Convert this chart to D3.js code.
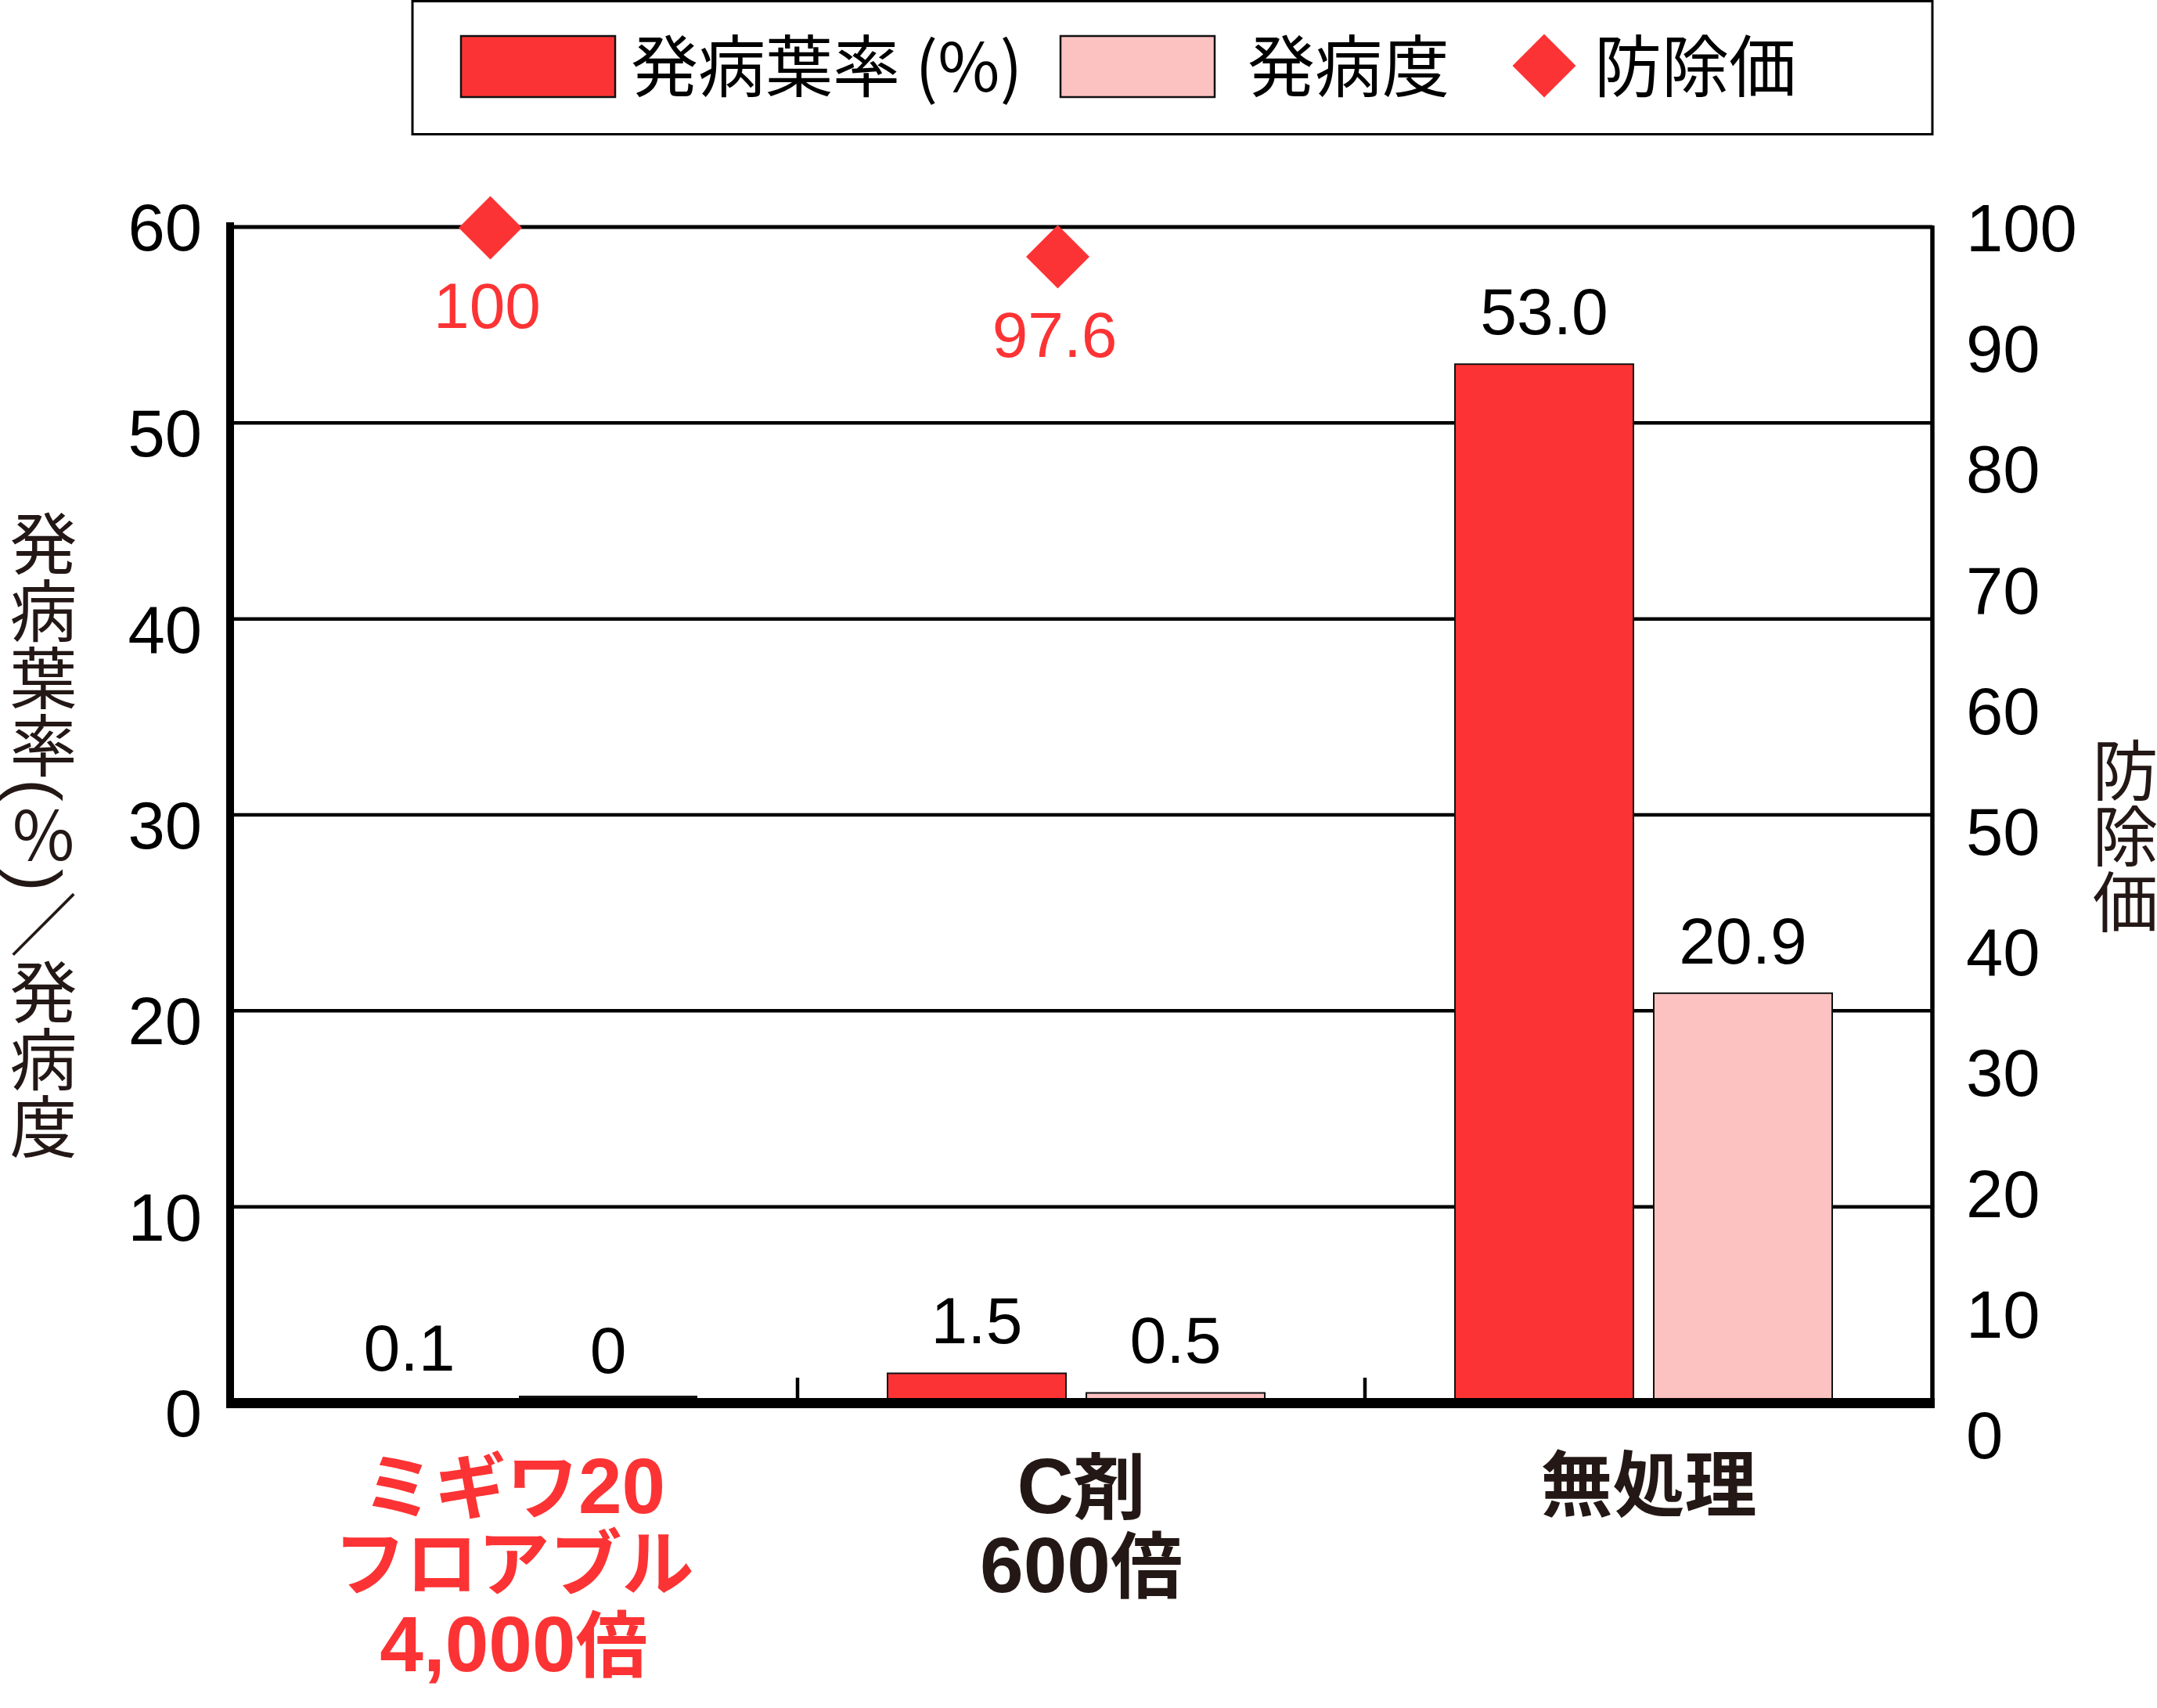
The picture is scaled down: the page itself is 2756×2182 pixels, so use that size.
<!DOCTYPE html>
<html>
<head>
<meta charset="utf-8">
<script src="https://cdn.jsdelivr.net/npm/d3@7"></script>
<style>
  html, body { margin: 0; padding: 0; background: #fff; }
  #wrap { position: relative; width: 2756px; height: 2182px; overflow: hidden; }
  svg { display: block; position: absolute; left: 0; top: 0; }
  .vtitle { position: absolute; writing-mode: vertical-rl; text-orientation: mixed; white-space: nowrap;
            font-family: 'Liberation Sans', 'Noto Sans CJK JP', sans-serif; color: #231815; }
  .cat { position: absolute; text-align: center; font-weight: 700; white-space: nowrap;
         font-family: 'Liberation Sans', 'Noto Sans CJK JP', sans-serif; }
  .cat .line { height: 101px; line-height: 101px; }
</style>
</head>
<body>
<div id="wrap"><svg id="chart" width="2756" height="2182"></svg></div>
<script>
// ---- data ----
const categories = ["ミギワ20フロアブル4,000倍", "C剤600倍", "無処理"];
const categoryLines = [["ミギワ20", "フロアブル", "4,000倍"], ["C剤", "600倍"], ["無処理"]];
const seriesNames = ["発病葉率 (%)", "発病度", "防除価"];
const incidence = [0.1, 1.5, 53.0];          // 発病葉率 (%)
const severity = [0, 0.5, 20.9];             // 発病度
const controlValue = [100, 97.6, null];      // 防除価
const incidenceLabels = ["0.1", "1.5", "53.0"];
const severityLabels = ["0", "0.5", "20.9"];
const controlLabels = ["100", "97.6", ""];
const leftTicks = [0, 10, 20, 30, 40, 50, 60];
const rightTicks = [0, 10, 20, 30, 40, 50, 60, 70, 80, 90, 100];
const leftTitle = "発病葉率(％)／発病度";
const rightTitle = "防除価";

// ---- style ----
const RED = "#fc3334";
const PINK = "#fcc1c1";
const DARK = "#231815";
const NUM_FONT = "'Liberation Sans', Arial, Helvetica, sans-serif";
const JP_FONT = "'Noto Sans CJK JP', 'Noto Sans', sans-serif";

const wrap = d3.select("#wrap");
const svg = d3.select("#chart");

const plotL = 294, plotR = 2469, plotT = 290, plotB = 1792;

const x0 = d3.scaleBand().domain(categories).range([plotL, plotR]).paddingInner(0).paddingOuter(0);
const seriesKeys = ["incidence", "severity"];
const x1 = d3.scaleBand().domain(seriesKeys).range([115, 597]).paddingInner(0.1024).paddingOuter(0);
const y = d3.scaleLinear().domain([0, 60]).range([plotB, plotT]);
const yR = d3.scaleLinear().domain([0, 100]).range([1833, 291]);

const rows = categories.map((c, i) => ({
  cat: c, lines: categoryLines[i],
  bars: [
    {key: "incidence", v: incidence[i], label: incidenceLabels[i], fill: RED},
    {key: "severity", v: severity[i], label: severityLabels[i], fill: PINK}
  ],
  ctrl: controlValue[i], ctrlLabel: controlLabels[i]
}));

// gridlines
svg.append("g").selectAll("line").data(leftTicks.filter(d => d > 0)).join("line")
  .attr("x1", plotL).attr("x2", plotR)
  .attr("y1", d => y(d)).attr("y2", d => y(d))
  .attr("stroke", "#000").attr("stroke-width", d => d === 60 ? 5 : 4.5);

// bars
const g = svg.append("g").selectAll("g").data(rows).join("g")
  .attr("transform", d => `translate(${x0(d.cat)},0)`);
g.selectAll("rect.bar").data(d => d.bars.filter(b => b.v > 0)).join("rect").attr("class", "bar")
  .attr("x", d => x1(d.key)).attr("width", x1.bandwidth())
  .attr("y", d => y(d.v)).attr("height", d => y(0) - y(d.v))
  .attr("fill", d => d.fill).attr("stroke", "#111").attr("stroke-width", 2);

// value labels
g.selectAll("text.val").data(d => d.bars).join("text").attr("class", "val")
  .attr("x", d => x1(d.key) + x1.bandwidth() / 2)
  .attr("y", d => y(d.v) - 38)
  .attr("text-anchor", "middle").attr("font-family", NUM_FONT).attr("font-size", 84)
  .attr("fill", "#000").text(d => d.label);

// axes lines
svg.append("line").attr("x1", plotL).attr("x2", plotL).attr("y1", 284).attr("y2", 1799)
  .attr("stroke", "#000").attr("stroke-width", 10);
svg.append("line").attr("x1", plotR).attr("x2", plotR).attr("y1", 288).attr("y2", 1799)
  .attr("stroke", "#000").attr("stroke-width", 5.5);
svg.append("line").attr("x1", plotL - 5).attr("x2", plotR + 3).attr("y1", 1792.5).attr("y2", 1792.5)
  .attr("stroke", "#000").attr("stroke-width", 13);

// zero-value markers (thin line sitting on the baseline)
g.selectAll("line.zero").data(d => d.bars.filter(b => b.v === 0)).join("line").attr("class", "zero")
  .attr("x1", d => x1(d.key)).attr("x2", d => x1(d.key) + x1.bandwidth())
  .attr("y1", 1784.5).attr("y2", 1784.5)
  .attr("stroke", "#111").attr("stroke-width", 3);

// category dividers
svg.append("g").selectAll("line").data(categories.slice(1)).join("line")
  .attr("x1", d => x0(d)).attr("x2", d => x0(d))
  .attr("y1", 1760).attr("y2", 1790)
  .attr("stroke", "#000").attr("stroke-width", 4.5);

// left tick labels
svg.append("g").selectAll("text").data(leftTicks).join("text")
  .attr("x", 258).attr("y", d => y(d) + (d === 60 ? 0 : 13) + 30)
  .attr("text-anchor", "end").attr("font-family", NUM_FONT).attr("font-size", 85)
  .attr("fill", "#000").text(d => d);

// right tick labels
svg.append("g").selectAll("text").data(rightTicks).join("text")
  .attr("x", 2512).attr("y", d => yR(d) + 30)
  .attr("text-anchor", "start").attr("font-family", NUM_FONT).attr("font-size", 85)
  .attr("fill", "#000").text(d => d);

// diamonds (防除価)
const diamond = d3.symbol().type(d3.symbolSquare).size(3281);
const ctrlRows = rows.filter(d => d.ctrl != null);
svg.append("g").selectAll("path").data(ctrlRows).join("path")
  .attr("d", diamond)
  .attr("transform", d => `translate(${x0(d.cat) + x0.bandwidth() / 2 - 30},${yR(d.ctrl)}) rotate(45)`)
  .attr("fill", RED);
svg.append("g").selectAll("text").data(ctrlRows).join("text")
  .attr("x", d => x0(d.cat) + x0.bandwidth() / 2 - 34)
  .attr("y", d => yR(d.ctrl) + 128)
  .attr("text-anchor", "middle").attr("font-family", NUM_FONT).attr("font-size", 82)
  .attr("fill", RED).text(d => d.ctrlLabel);

// category labels (HTML, Latin runs slightly larger)
const splitRuns = s => (s.match(/[0-9A-Za-z,.]+|[^0-9A-Za-z,.]+/g) || []).map(t => ({t, lat: /^[0-9A-Za-z,.]/.test(t)}));
const catDiv = wrap.selectAll("div.cat").data(rows).join("div").attr("class", "cat")
  .style("left", d => x0(d.cat) + "px")
  .style("width", x0.bandwidth() + "px")
  .style("top", "1848px")
  .style("font-size", "92px")
  .style("color", (d, i) => i === 0 ? RED : DARK);
catDiv.selectAll("div.line").data(d => d.lines).join("div").attr("class", "line")
  .selectAll("span").data(d => splitRuns(d)).join("span")
  .style("font-size", d => d.lat ? "100px" : null)
  .text(d => d.t);

// vertical titles (HTML)
wrap.append("div").attr("class", "vtitle")
  .style("left", (48 - 43) + "px").style("top", "1067px")
  .style("transform", "translateY(-50%)")
  .style("font-size", "86px").style("line-height", "86px")
  .text(leftTitle);
wrap.append("div").attr("class", "vtitle")
  .style("left", (2708 - 42) + "px").style("top", "1068px")
  .style("transform", "translateY(-50%)")
  .style("font-size", "84px").style("line-height", "84px")
  .text(rightTitle);

// legend
svg.append("rect").attr("x", 527).attr("y", 1.5).attr("width", 1942).attr("height", 170)
  .attr("fill", "#fff").attr("stroke", "#000").attr("stroke-width", 3);
const legendItems = [
  {name: seriesNames[0], type: "rect", fill: RED, sx: 589, tx: 806},
  {name: seriesNames[1], type: "rect", fill: PINK, sx: 1355, tx: 1594},
  {name: seriesNames[2], type: "diamond", fill: RED, sx: 1973, tx: 2037}
];
const lg = svg.append("g");
lg.selectAll("rect.sw").data(legendItems.filter(d => d.type === "rect")).join("rect").attr("class", "sw")
  .attr("x", d => d.sx).attr("y", 46).attr("width", 197).attr("height", 78)
  .attr("fill", d => d.fill).attr("stroke", "#111").attr("stroke-width", 2.5);
lg.selectAll("path").data(legendItems.filter(d => d.type === "diamond")).join("path")
  .attr("d", diamond).attr("transform", d => `translate(${d.sx},84) rotate(45)`).attr("fill", d => d.fill);
lg.selectAll("text").data(legendItems).join("text")
  .attr("x", d => d.tx).attr("y", 79).attr("dominant-baseline", "central")
  .attr("font-family", JP_FONT).attr("font-size", 86).attr("fill", "#000")
  .text(d => d.name);
</script>
</body>
</html>
